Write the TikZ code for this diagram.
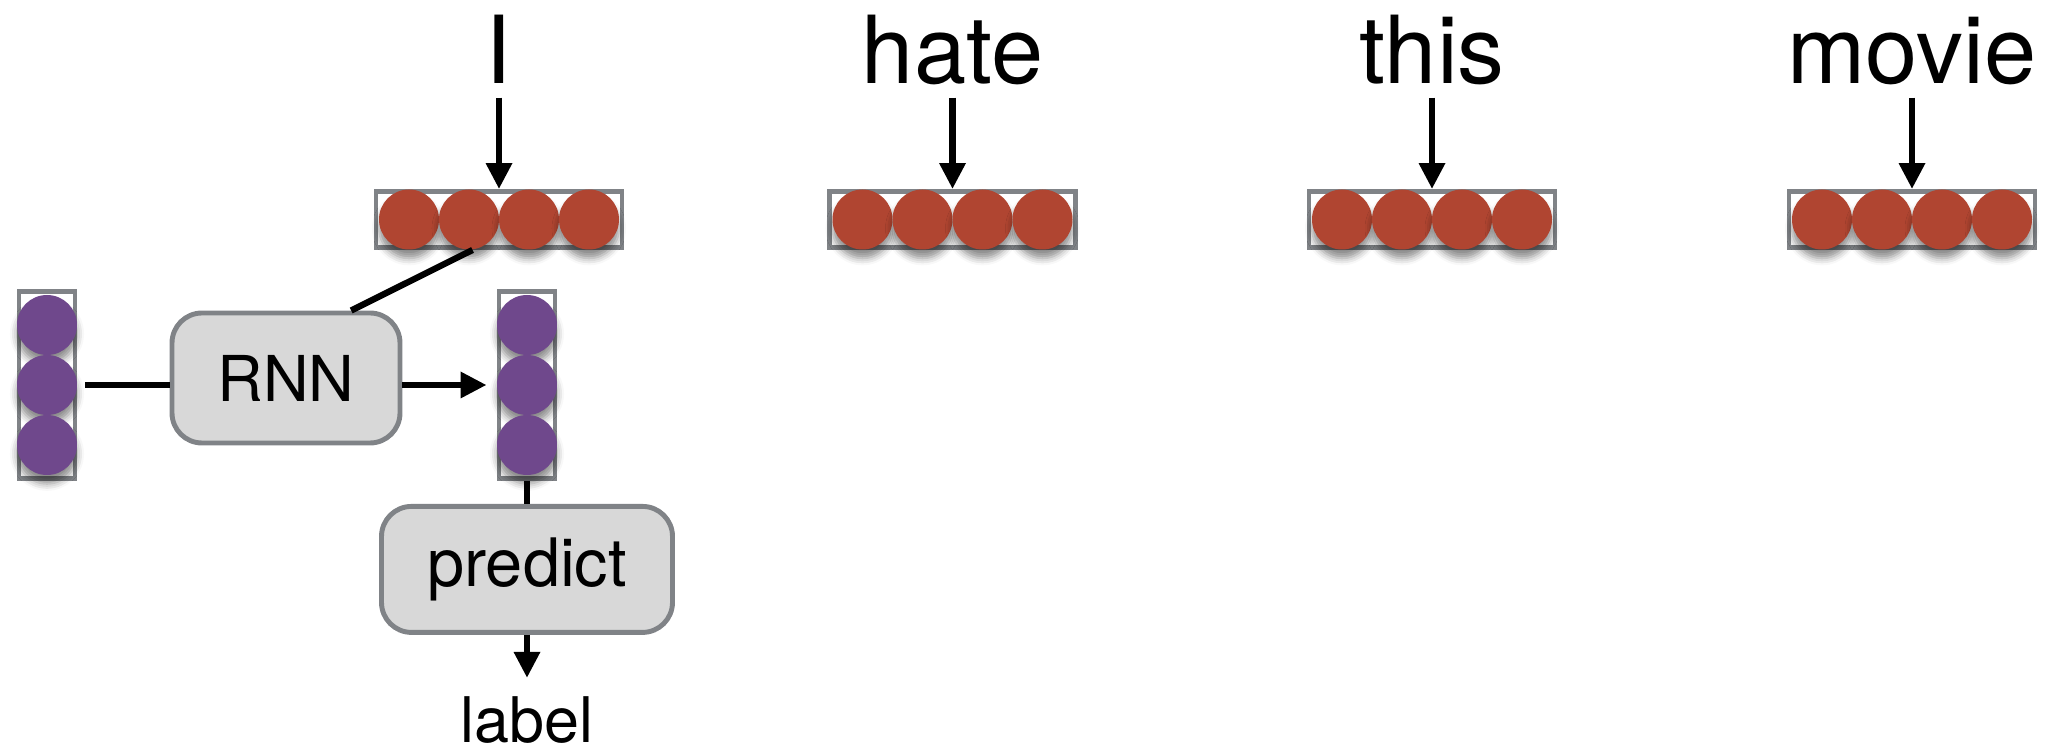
\documentclass[tikz,border=0pt]{standalone}
\usepackage{fontspec}
\setmainfont{TeX Gyre Heros}
\usetikzlibrary{positioning, calc, arrows.meta, shadows.blur}

\definecolor{wordred}{RGB}{176,69,49}
\definecolor{hidpurple}{RGB}{111,72,140}
\definecolor{framegray}{RGB}{128,131,135}
\definecolor{boxfill}{RGB}{216,216,216}

\tikzstyle{Arrow} = [line width=1.8pt, -{Triangle[length=0.26cm, width=0.25cm]}]
\tikzstyle{Line} = [line width=1.8pt]
\tikzstyle{Vec} = [draw=framegray, line width=1.4pt, inner sep=0pt]
\tikzstyle{Dot} = [circle, inner sep=0pt, minimum size=0.6cm,
  blur shadow={shadow xshift=0pt, shadow yshift=-2.5pt,
  shadow blur radius=2pt, shadow opacity=45}]
\tikzstyle{Func} = [draw=framegray, fill=boxfill, line width=1.4pt,
  rounded corners=0.3cm, inner sep=0pt]
\tikzstyle{Word} = [anchor=base, inner sep=0pt, text depth=0pt,
  font=\fontsize{26.7}{30}\selectfont]

\begin{document}
\begin{tikzpicture}
    \useasboundingbox (0,0) rectangle (20.52,-7.51);
    % words and their embedding vectors
    \foreach \w/\x in {I/4.99, hate/9.525, this/14.32, movie/19.12} {
        \node [Word] (w\w) at (\x,-0.84) {\w};
        \node [Vec, minimum width=2.46cm, minimum height=0.56cm] (v\w) at (\x,-2.195) {};
        \foreach \i/\dx in {1/-0.9, 2/-0.3, 3/0.3, 4/0.9}
            \node [Dot, fill=wordred] (v\w\i) at ($(v\w)+(\dx,0)$) {};
        \draw[Arrow, shorten <=0.13cm] (w\w.south) -- (v\w.north);
    }
    % hidden states before and after
    \node [Vec, minimum width=0.56cm, minimum height=1.87cm] (hL) at (0.47,-3.85) {};
    \node [Vec, minimum width=0.56cm, minimum height=1.87cm] (hR) at (5.27,-3.85) {};
    \foreach \h in {hL, hR}
        \foreach \i/\dy in {1/0.6, 2/0, 3/-0.6}
            \node [Dot, fill=hidpurple] (\h\i) at ($(\h)+(0,\dy)$) {};
    \node [Func, minimum width=2.28cm, minimum height=1.30cm,
           font=\fontsize{18}{21}\selectfont] (rnn) at (2.86,-3.78) {RNN};
    \node [Func, below=0.23cm of hR, minimum width=2.91cm, minimum height=1.26cm,
           font=\fontsize{19}{22}\selectfont] (pred) {predict};
    \node [below=0.61cm of pred, inner sep=0pt,
           font=\fontsize{17.9}{21}\selectfont] (lbl) {label};
    \draw[Line, shorten <=0.08cm] (hL.east) -- (hL.east -| rnn.west);
    \draw[Arrow, shorten >=0.1cm] (hR.west -| rnn.east) -- (hR.west);
    \draw[Line] (vI.-131) -- (rnn.46);
    \draw[Line] (hR.south) -- (pred.north);
    \draw[Arrow, shorten >=0.18cm] (pred.south) -- (lbl.north);
\end{tikzpicture}
\end{document}
